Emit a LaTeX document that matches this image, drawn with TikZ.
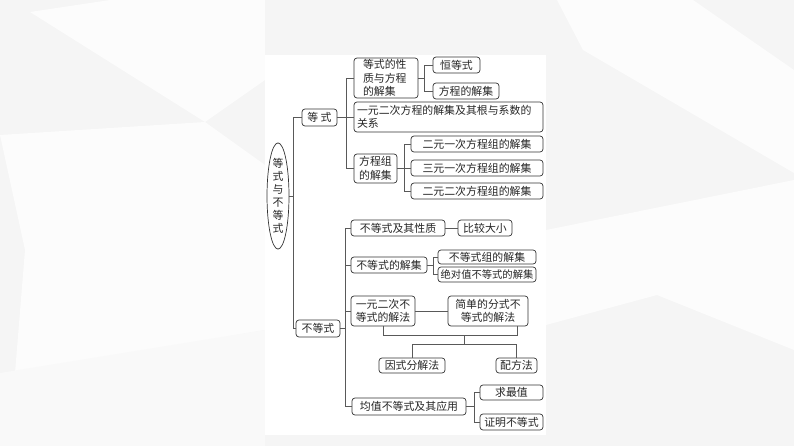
\documentclass[tikz,border=0pt]{standalone}
\usepackage{fontspec}
\setmainfont{Noto Sans CJK SC}
\usetikzlibrary{shapes.geometric}
\begin{document}
\begin{tikzpicture}[x=1pt,y=-1pt,
  box/.style={draw=black!80, line width=0.7pt, rounded corners=3pt, inner sep=0pt,
    font=\fontsize{10.9}{13.5}\selectfont, text=black!85},
  link/.style={draw=black!65, line width=0.7pt},
  facet/.style={fill=black!1}
]
\fill[black!4] (0,0) rectangle (794,446);
\useasboundingbox (0,0) rectangle (794,446);
% background facets
\fill[facet] (30,12) -- (110,0) -- (265,0) -- (265,80) -- (205,122) -- cycle;
\fill[facet] (0,135) -- (205,122) -- (265,165) -- (265,330) -- (15,373) -- (25,250) -- cycle;
\fill[facet] (557,0) -- (693,0) -- (794,70) -- (794,173) -- (583,50) -- cycle;
\fill[facet] (546,230) -- (794,180) -- (794,350) -- (657,295) -- (546,325) -- cycle;
\fill[black!2.5] (0,373) -- (265,330) -- (265,446) -- (0,446) -- cycle;
% panel
\fill[white] (265,55) rectangle (546,435);

% root
\node[draw=black!80, line width=0.7pt, ellipse, inner sep=0pt, minimum width=22pt, minimum height=104pt,
  align=center, font=\fontsize{10.9}{13}\selectfont, text=black!85] (root) at (278,196)
  {等\\式\\与\\不\\等\\式};

% equality branch
\node[box, minimum width=35pt, minimum height=17pt] (deng) at (319.5,117.5) {等 式};
\node[box, minimum width=64pt, minimum height=40pt, align=left, text width=46pt] (b1) at (386,78) {等式的性\\质与方程\\的解集};
\node[box, minimum width=47pt, minimum height=16pt] (heng) at (456.5,65) {恒等式};
\node[box, minimum width=66pt, minimum height=16pt] (fjj) at (466,91) {方程的解集};
\node[box, minimum width=189pt, minimum height=30pt, align=left, text width=183pt] (b2) at (448.5,117) {一元二次方程的解集及其根与系数的\\关系};
\node[box, minimum width=43pt, minimum height=29pt, align=center] (b3) at (375.5,168.5) {方程组\\的解集};
\node[box, minimum width=132pt, minimum height=16pt] (c1) at (477,144) {二元一次方程组的解集};
\node[box, minimum width=132pt, minimum height=16pt] (c2) at (477,168) {三元一次方程组的解集};
\node[box, minimum width=132pt, minimum height=16pt] (c3) at (477,191) {二元二次方程组的解集};

% inequality branch
\node[box, minimum width=44pt, minimum height=17pt] (bu) at (318,328.5) {不等式};
\node[box, minimum width=94pt, minimum height=16pt] (d1) at (398,228) {不等式及其性质};
\node[box, minimum width=54pt, minimum height=16pt] (bj) at (485,228) {比较大小};
\node[box, minimum width=76pt, minimum height=16pt] (d2) at (389,265) {不等式的解集};
\node[box, minimum width=98pt, minimum height=14pt] (e1) at (487,257) {不等式组的解集};
\node[box, minimum width=98pt, minimum height=15pt, font=\fontsize{10.3}{12}\selectfont] (e2) at (487,274.5) {绝对值不等式的解集};
\node[box, minimum width=64pt, minimum height=30pt, align=center] (d3) at (383,311) {一元二次不\\等式的解法};
\node[box, minimum width=80pt, minimum height=30pt, align=center] (jd) at (488,311) {简单的分式不\\等式的解法};
\node[box, minimum width=66pt, minimum height=15pt] (ys) at (412,365.5) {因式分解法};
\node[box, minimum width=41pt, minimum height=15pt] (pf) at (516.5,365.5) {配方法};
\node[box, minimum width=114pt, minimum height=17pt] (d5) at (409,406.5) {均值不等式及其应用};
\node[box, minimum width=63pt, minimum height=15pt] (qz) at (511.5,392.5) {求最值};
\node[box, minimum width=63pt, minimum height=16pt] (zm) at (511.5,422) {证明不等式};

% connector coordinates
\coordinate (t0) at (293,196);
\coordinate (t1) at (346,117.5);
\coordinate (t2) at (424,78);
\coordinate (t3) at (404,168.5);
\coordinate (t4) at (345,328.5);
\coordinate (t5) at (433,265);
\coordinate (t6) at (474,406.5);
\coordinate (m1) at (464,335);
\coordinate (m2) at (464,344);
\coordinate (jdb) at (517,326);

\draw[link] (root.east) -- (t0);
\draw[link] (t0) |- (deng.west);
\draw[link] (t0) |- (bu.west);

\draw[link] (deng.east) -- (t1);
\draw[link] (t1) |- (b1.west);
\draw[link] (t1) |- (b2.west);
\draw[link] (t1) |- (b3.west);

\draw[link] (b1.east) -- (t2);
\draw[link] (t2) |- (heng.west);
\draw[link] (t2) |- (fjj.west);

\draw[link] (b3.east) -- (t3);
\draw[link] (t3) |- (c1.west);
\draw[link] (t3) |- (c2.west);
\draw[link] (t3) |- (c3.west);

\draw[link] (bu.east) -- (t4);
\draw[link] (t4) |- (d1.west);
\draw[link] (t4) |- (d2.west);
\draw[link] (t4) |- (d3.west);
\draw[link] (t4) |- (d5.west);

\draw[link] (d1.east) -- (bj.west);
\draw[link] (d2.east) -- (t5);
\draw[link] (t5) |- (e1.west);
\draw[link] (t5) |- (e2.west);

\draw[link] (d3.east) -- (jd.west);
\draw[link] (d3.south) |- (m1);
\draw[link] (jdb) |- (m1);
\draw[link] (m1) -- (m2);
\draw[link] (ys.north) |- (m2);
\draw[link] (pf.north) |- (m2);

\draw[link] (d5.east) -- (t6);
\draw[link] (t6) |- (qz.west);
\draw[link] (t6) |- (zm.west);
\end{tikzpicture}
\end{document}
